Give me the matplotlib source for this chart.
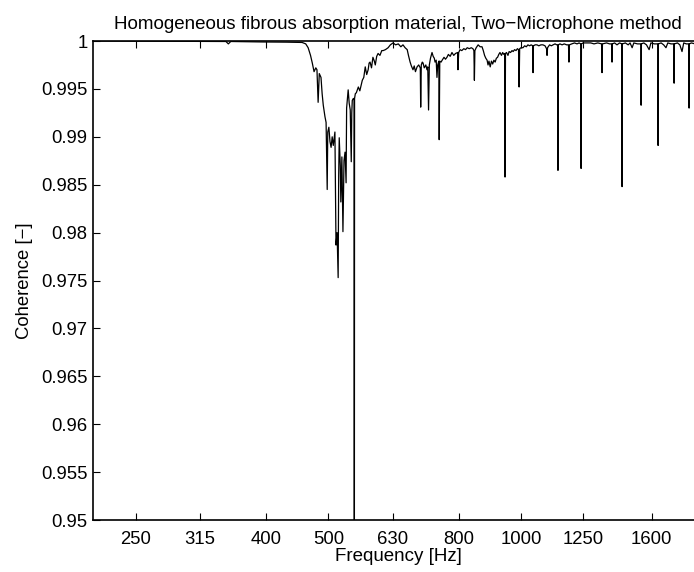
# -*- coding: utf-8 -*-
""" Coherence plot, two-microphone method """
import numpy as np
import matplotlib
matplotlib.use("Agg")
import matplotlib.pyplot as plt

# -----------------------------------------------------------------------------
# Data
# -----------------------------------------------------------------------------
freq_hz = [
    214, 260, 300, 346, 349, 352, 395, 430, 455, 461,
    465, 469, 472, 475, 478, 480, 482, 484, 487, 489,
    491, 494, 496, 498, 499, 501, 503, 505, 507, 509,
    512, 514, 516, 518, 519, 520, 522, 523, 525, 527,
    529, 531, 533, 534, 535, 537, 539, 541, 543, 544,
    545, 547, 548.5, 549, 549.5, 551, 553, 557, 560, 565,
    568, 571, 574, 577, 579, 581, 584, 587, 590, 592,
    595, 598, 602, 606, 609, 614, 620, 625, 631, 637,
    643, 649, 654, 659, 664, 667, 671, 674, 678, 681,
    684, 688, 692, 696, 697, 698.5, 701, 703, 706, 710,
    713, 715, 717, 719, 722, 726, 729, 732, 734, 737,
    739, 741, 744, 745, 746.5, 750, 753, 758, 762, 766,
    770, 775, 780, 785, 790, 796, 797, 799, 803, 808,
    814, 819, 824, 830, 836, 841, 844, 845.5, 847, 851,
    857, 863, 869, 873, 877, 881, 885, 888, 891, 895,
    899, 903, 907, 911, 915, 919, 923, 927, 932, 936,
    940, 943, 944, 945.5, 949, 954, 958, 963, 968, 972,
    977, 982, 987, 991, 993, 995, 1000, 1007, 1013, 1019,
    1025, 1031, 1037, 1043, 1044, 1045.5, 1052, 1059, 1066, 1074,
    1082, 1090, 1096, 1098, 1100, 1108, 1115, 1122, 1130, 1137,
    1141, 1142, 1143.5, 1150, 1159, 1168, 1178, 1186, 1188, 1190,
    1200, 1212, 1223, 1232, 1240, 1241, 1242.5, 1250, 1268, 1285,
    1300, 1318, 1336, 1338, 1340, 1360, 1375, 1386, 1387, 1388.5,
    1400, 1412, 1425, 1437, 1438, 1439.5, 1455, 1470, 1480, 1491,
    1500, 1520, 1539, 1540, 1541.5, 1555, 1570, 1585, 1595, 1615,
    1636, 1637, 1638.5, 1655, 1670, 1684, 1695, 1715, 1733, 1734,
    1735.5, 1755, 1770, 1784, 1795, 1812, 1829, 1830, 1831.5, 1845,
    1870, 1900, 1930,
]
coherence = [
    1.0, 0.99998, 0.99997, 0.99995, 0.9997, 0.99995, 0.9999, 0.99988, 0.99985, 0.9997,
    0.9993, 0.9985, 0.9977, 0.9968, 0.9972, 0.9970, 0.9936, 0.9966, 0.9962, 0.9945,
    0.9933, 0.9921, 0.9915, 0.9845, 0.9905, 0.9910, 0.9895, 0.9889, 0.9900, 0.9891,
    0.9905, 0.9787, 0.9800, 0.9753, 0.9860, 0.9899, 0.9870, 0.9832, 0.9879, 0.9801,
    0.9875, 0.9884, 0.9852, 0.9930, 0.9936, 0.9949, 0.9935, 0.9928, 0.9874, 0.9925,
    0.9938, 0.9940, 0.9940, 0.930, 0.9940, 0.9945, 0.9946, 0.9952, 0.9948, 0.9959,
    0.9962, 0.9973, 0.9965, 0.9970, 0.9977, 0.9978, 0.9972, 0.9983, 0.9979, 0.9975,
    0.9984, 0.9987, 0.9985, 0.9990, 0.9990, 0.9991, 0.9993, 0.9996, 0.9998, 0.9996,
    0.9997, 0.9994, 0.9996, 0.9993, 0.9991, 0.9985, 0.9978, 0.9974, 0.9970, 0.9974,
    0.9968, 0.9973, 0.9975, 0.9972, 0.9931, 0.9975, 0.9978, 0.9977, 0.9972, 0.9975,
    0.9970, 0.9973, 0.9928, 0.9975, 0.9982, 0.9988, 0.9984, 0.9982, 0.9978, 0.9980,
    0.9962, 0.9975, 0.9979, 0.9897, 0.9979, 0.9978, 0.9980, 0.9983, 0.9981, 0.9983,
    0.9986, 0.9984, 0.9988, 0.9985, 0.9987, 0.9988, 0.9970, 0.9988, 0.9991, 0.9990,
    0.9992, 0.9991, 0.9993, 0.9992, 0.9993, 0.9992, 0.9990, 0.9959, 0.9990, 0.9993,
    0.9996, 0.9994, 0.9994, 0.9990, 0.9985, 0.9982, 0.9980, 0.9975, 0.9979, 0.9973,
    0.9979, 0.9976, 0.9980, 0.9978, 0.9982, 0.9983, 0.9986, 0.9988, 0.9985, 0.9988,
    0.9986, 0.9987, 0.9858, 0.9987, 0.9988, 0.9985, 0.9989, 0.9988, 0.9990, 0.9989,
    0.9991, 0.9990, 0.9992, 0.9991, 0.9952, 0.9992, 0.9993, 0.9993, 0.9995, 0.9994,
    0.9996, 0.9995, 0.9996, 0.9995, 0.9967, 0.9995, 0.9996, 0.9996, 0.9995, 0.9996,
    0.9996, 0.9995, 0.9992, 0.9985, 0.9993, 0.9996, 0.9995, 0.9996, 0.9997, 0.9996,
    0.9996, 0.9865, 0.9996, 0.9997, 0.9996, 0.9997, 0.9996, 0.9996, 0.9978, 0.9996,
    0.9997, 0.9998, 0.9997, 0.9998, 0.9997, 0.9867, 0.9997, 0.9998, 0.9998, 0.9998,
    0.9997, 0.9998, 0.9997, 0.9967, 0.9997, 0.9998, 0.9997, 0.9997, 0.9978, 0.9997,
    0.9998, 0.9996, 0.9998, 0.9997, 0.9848, 0.9997, 0.9998, 0.9996, 0.9998, 0.9993,
    0.9998, 0.9997, 0.9997, 0.9933, 0.9997, 0.9998, 0.9996, 0.9991, 0.9998, 0.9997,
    0.9997, 0.9891, 0.9997, 0.9998, 0.9996, 0.9993, 0.9998, 0.9997, 0.9997, 0.9956,
    0.9997, 0.9998, 0.9996, 0.9989, 0.9998, 0.9997, 0.9997, 0.9930, 0.9997, 0.9998,
    0.9997, 0.9997, 0.9997,
]

x_ticks = [250, 315, 400, 500, 630, 800, 1000, 1250, 1600]
y_ticks = [0.95, 0.955, 0.96, 0.965, 0.97, 0.975, 0.98, 0.985, 0.99, 0.995, 1.0]
y_tick_labels = ['0.95', '0.955', '0.96', '0.965', '0.97', '0.975',
                 '0.98', '0.985', '0.99', '0.995', '1']

TITLE = 'Homogeneous fibrous absorption material, Two\u2212Microphone method'

# -----------------------------------------------------------------------------
# Plot
# -----------------------------------------------------------------------------
plt.rcParams['font.family'] = ['Liberation Sans', 'DejaVu Sans']
plt.rcParams['font.size'] = 13.3

fig = plt.figure(figsize=(6.94, 5.72), dpi=100)
# axes run on a little past the right edge of the picture
ax = fig.add_axes([0.134, 0.0909, 0.879, 0.8374])

ax.plot(freq_hz, coherence, color='black', linewidth=0.9)

ax.set_xscale('log')
ax.set_xlim(214.5, 1924)
ax.set_ylim(0.95, 1.0)

ax.set_xticks(x_ticks)
ax.set_xticklabels([str(t) for t in x_ticks])
ax.xaxis.set_minor_locator(matplotlib.ticker.NullLocator())
ax.set_yticks(y_ticks)
ax.set_yticklabels(y_tick_labels)

ax.tick_params(axis='x', which='both', direction='in', top=True, bottom=True,
               length=5, width=0.8, pad=8)
ax.tick_params(axis='y', which='both', direction='in', left=True, right=False,
               length=5, width=0.8, pad=4)
ax.spines['right'].set_visible(False)
for s in ['left', 'top', 'bottom']:
    ax.spines[s].set_linewidth(1.2)

ax.set_xlabel('Frequency [Hz]', fontsize=13.5, labelpad=0)
ax.set_ylabel('Coherence [\u2212]', fontsize=13.3, labelpad=6)
ax.set_title(TITLE, fontsize=13.5, pad=9)

plt.savefig('out.png', dpi=100)
